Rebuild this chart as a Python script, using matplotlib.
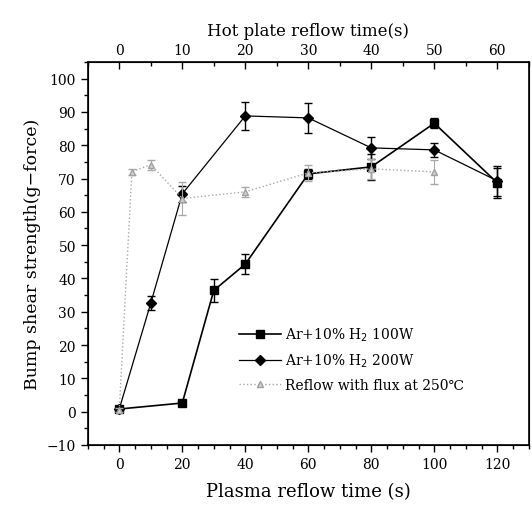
import numpy as np
import matplotlib
matplotlib.use('Agg')
import matplotlib.pyplot as plt
from matplotlib.ticker import MultipleLocator

# Plasma reflow series (bottom axis, s)
t_100w = [0, 20, 30, 40, 60, 80, 100, 120]
s_100w = [0.8, 2.6, 36.4, 44.3, 71.4, 73.5, 86.6, 68.7]
e_100w = [0.5, 0.5, 3.5, 3.0, 1.5, 4.0, 1.5, 4.5]

t_200w = [0, 10, 20, 40, 60, 80, 100, 120]
s_200w = [0.8, 32.6, 65.4, 88.8, 88.2, 79.2, 78.6, 69.3]
e_200w = [0.5, 2.0, 2.5, 4.2, 4.5, 3.3, 2.2, 4.5]

# Hot plate reflow series (top axis, s)
t_flux = [0, 2, 5, 10, 20, 30, 40, 50]
s_flux = [0.5, 72.0, 74.2, 64.0, 66.0, 71.7, 72.9, 72.0]
e_flux = [0.5, 1.0, 1.5, 5.0, 1.5, 2.5, 3.0, 3.5]

labels = ['Ar+10% H$_2$ 100W', 'Ar+10% H$_2$ 200W',
          'Reflow with flux at 250\u2103']

plt.rcParams['font.family'] = ['DejaVu Serif', 'Noto Sans CJK KR']

fig = plt.figure(figsize=(5.32, 5.06), dpi=100)
ax = fig.add_axes([0.165, 0.1186, 0.829, 0.757])

c1 = ax.errorbar(t_100w, s_100w, yerr=e_100w, color='black', lw=1.2,
                 marker='s', ms=6, capsize=3, elinewidth=1, zorder=3)
c2 = ax.errorbar(t_200w, s_200w, yerr=e_200w, color='black', lw=0.9,
                 marker='D', ms=5, capsize=3, elinewidth=1, zorder=3)

ax.set_xlim(-10, 130)
ax.set_ylim(-10, 105)
ax.xaxis.set_major_locator(MultipleLocator(20))
ax.xaxis.set_minor_locator(MultipleLocator(5))
ax.yaxis.set_major_locator(MultipleLocator(10))
ax.yaxis.set_minor_locator(MultipleLocator(5))
ax.tick_params(which='both', direction='out', labelsize=10, width=1)
ax.tick_params(which='major', length=5)
ax.tick_params(which='minor', length=3)
ax.tick_params(right=False)
ax.set_xlabel('Plasma reflow time (s)', fontsize=13, labelpad=8)
ax.set_ylabel('Bump shear strength(g\u2212force)', fontsize=12.5, labelpad=4)
for sp in ax.spines.values():
    sp.set_linewidth(1.2)

top = ax.twiny()
c3 = top.errorbar(t_flux, s_flux, yerr=e_flux, color='#a8a8a8', lw=1,
                  ls=':', marker='^', ms=5, mfc='#d0d0d0', mec='#a0a0a0',
                  capsize=3, elinewidth=0.8, zorder=2)
top.set_xlim(-5, 65)
top.xaxis.set_major_locator(MultipleLocator(10))
top.xaxis.set_minor_locator(MultipleLocator(5))
top.tick_params(which='both', direction='in', labelsize=10, width=1)
top.tick_params(which='major', length=5)
top.tick_params(which='minor', length=3)
top.set_xlabel('Hot plate reflow time(s)', fontsize=12, labelpad=6)

top.legend([c1[0], c2[0], c3[0]], labels, loc='upper left',
           bbox_to_anchor=(0.33, 0.325), frameon=False, fontsize=10,
           handlelength=3, handletextpad=0.3, labelspacing=0.6,
           borderaxespad=0)

fig.savefig('out.png', dpi=100)
